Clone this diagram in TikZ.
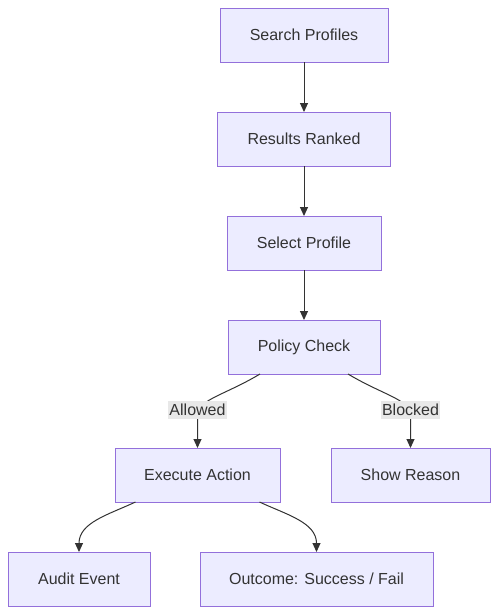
\documentclass[tikz,border=0pt]{standalone}
\usepackage{fontspec}
\setmainfont{Liberation Sans}
\usetikzlibrary{arrows.meta, positioning}
\definecolor{boxfill}{HTML}{ECECFF}
\definecolor{boxline}{HTML}{9370DB}
\definecolor{ink}{HTML}{333333}
\definecolor{lblfill}{HTML}{E8E8E8}

\begin{document}
\begin{tikzpicture}[
        x=1pt, y=-1pt,
        node distance=50pt,
        box/.style={draw=boxline, fill=boxfill, line width=1pt, outer sep=0pt, minimum height=54pt, align=center, text=ink, font=\fontsize{16}{19}\selectfont},
        lbl/.style={fill=lblfill, text=ink, inner xsep=1pt, inner ysep=3.5pt, font=\fontsize{16}{19}\selectfont},
        edge/.style={-{Triangle[length=9pt,width=8pt]}, draw=ink, line width=1pt}
    ]
    \useasboundingbox (0,0) rectangle (498,614);

    % Nodes
    \node[box, minimum width=168pt] (search) at (304,35) {Search Profiles};
    \node[box, minimum width=173pt, below=of search] (ranked) {Results Ranked};
    \node[box, minimum width=154pt, below=of ranked] (select) {Select Profile};
    \node[box, minimum width=152pt, below=of select] (policy) {Policy Check};
    \node[box, minimum width=165pt] (execute) at (197.5,475) {Execute Action};
    \node[box, minimum width=159pt] (reason) at (410.5,475) {Show Reason};
    \node[box, minimum width=142pt] (audit) at (79,579) {Audit Event};
    \node[box, minimum width=233pt] (outcome) at (316.5,579) {Outcome: Success / Fail};

    % Label points
    \coordinate (allowedpt) at (197.5,410);
    \coordinate (blockedpt) at (410.5,410);

    % Arrows
    \draw[edge] (search) -- (ranked);
    \draw[edge] (ranked) -- (select);
    \draw[edge] (select) -- (policy);
    \draw[edge] ([xshift=-44pt]policy.south) .. controls +(-30,18) and +(8,-12) .. (allowedpt) node[lbl] {Allowed} -- (execute.north);
    \draw[edge] ([xshift=44pt]policy.south) .. controls +(30,18) and +(-8,-12) .. (blockedpt) node[lbl] {Blocked} -- (reason.north);
    \draw[edge] ([xshift=-62pt]execute.south) to[out=-155, in=90] (audit.north);
    \draw[edge] ([xshift=62pt]execute.south) to[out=-25, in=90] (outcome.north);

\end{tikzpicture}
\end{document}
